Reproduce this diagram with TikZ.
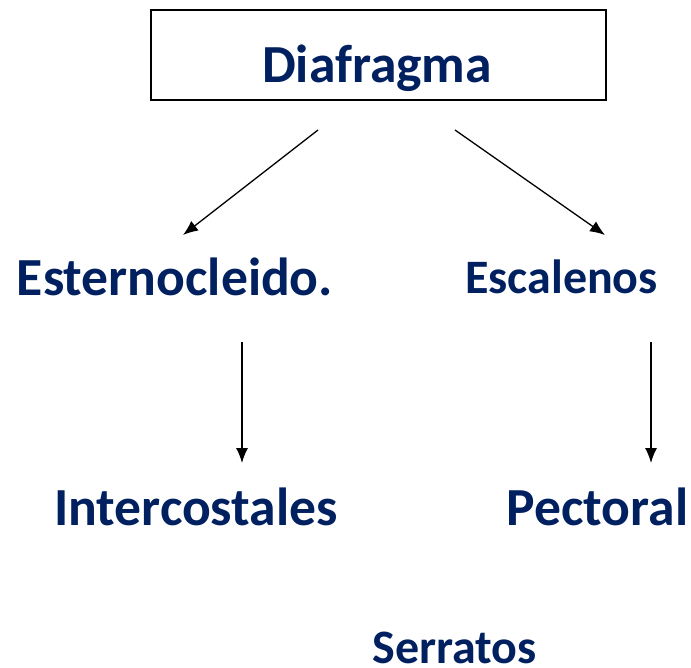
\documentclass[tikz,border=0pt]{standalone}
\usepackage{fontspec}
\setmainfont{Carlito}
\usepackage{tikz}
\usetikzlibrary{arrows.meta, positioning}
\definecolor{navy}{HTML}{002060}
\tikzstyle{label}=[text=navy, font=\bfseries\fontsize{53.6}{60}\selectfont, inner sep=0pt, anchor=base]
\tikzstyle{small}=[text=navy, font=\bfseries\fontsize{48}{56}\selectfont, inner sep=0pt, anchor=base]
\tikzstyle{link}=[-{Latex[length=15pt, width=12pt]}, line width=1.3pt]

\begin{document}
\begin{tikzpicture}[x=1pt, y=-1pt]
          \useasboundingbox (0,0) rectangle (691,667);
          \node[draw, line width=1.2pt, minimum width=455pt, minimum height=90pt, inner sep=0pt] (box) at (378.5,55) {};
          \node[label] (dia) at (377,82) {Diafragma};

          \node[label] (est) at (175,295) {Esternocleido.};
          \node[small] (esc) at (561.5,293) {Escalenos};
          \node[label] (int) at (196,525) {Intercostales};
          \node[label] (pec) at (597.5,525) {Pectoral};
          \node[small] (ser) at (454.5,663) {Serratos};

          \coordinate (a0) at (318,130);
          \coordinate (a1) at (183,235);
          \coordinate (b0) at (455,130);
          \coordinate (b1) at (605,235);
          \coordinate (c0) at (242,342);
          \coordinate (c1) at (242,463);
          \coordinate (d0) at (651,342);
          \coordinate (d1) at (651,463);

          \draw[link] (a0) -- (a1);
          \draw[link] (b0) -- (b1);
          \draw[link] (c0) -- (c1);
          \draw[link] (d0) -- (d1);
        \end{tikzpicture}
\end{document}
